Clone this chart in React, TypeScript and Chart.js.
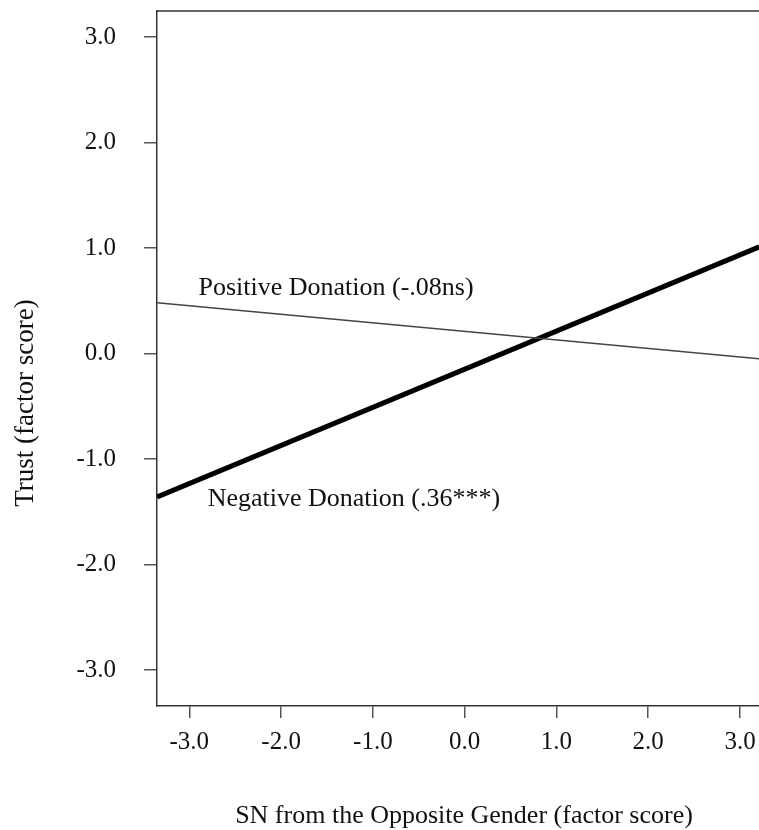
import React, { useEffect, useRef } from "react";
import { Chart, registerables } from "chart.js";

Chart.register(...registerables);

const xEnds = [-3.35, 3.21];
const positiveDonation = [0.48, -0.05];
const negativeDonation = [-1.36, 1.01];
const xTickValues = [-3, -2, -1, 0, 1, 2, 3];
const yTickValues = [-3, -2, -1, 0, 1, 2, 3];
const positiveLabel = "Positive Donation (-.08ns)";
const negativeLabel = "Negative Donation (.36***)";
const positiveLabelAt = [-2.9, 0.555];
const negativeLabelAt = [-2.8, -1.45];
const xTitle = "SN from the Opposite Gender (factor score)";
const yTitle = "Trust (factor score)";

const FONT = "'Liberation Serif', 'Times New Roman', serif";

const overlay = {
  id: "overlay",
  afterDraw(chart: any) {
    const { ctx, chartArea, scales } = chart;
    ctx.save();
    ctx.strokeStyle = "#333";
    ctx.lineWidth = 1.5;
    ctx.beginPath();
    ctx.moveTo(chartArea.left, chartArea.top);
    ctx.lineTo(chartArea.right, chartArea.top);
    ctx.stroke();
    ctx.fillStyle = "#111";
    ctx.font = `26px ${FONT}`;
    ctx.textBaseline = "alphabetic";
    ctx.textAlign = "left";
    ctx.fillText(
      positiveLabel,
      scales.x.getPixelForValue(positiveLabelAt[0]),
      scales.y.getPixelForValue(positiveLabelAt[1])
    );
    ctx.fillText(
      negativeLabel,
      scales.x.getPixelForValue(negativeLabelAt[0]),
      scales.y.getPixelForValue(negativeLabelAt[1])
    );
    ctx.textAlign = "center";
    ctx.textBaseline = "middle";
    ctx.fillText(xTitle, 464, 816);
    ctx.font = `27px ${FONT}`;
    ctx.translate(26, 403);
    ctx.rotate(-Math.PI / 2);
    ctx.fillText(yTitle, 0, 0);
    ctx.restore();
  },
};

const zeroPad = (s: any) => {
  s.paddingTop = 0;
  s.paddingBottom = 0;
  s.paddingLeft = 0;
  s.paddingRight = 0;
};

export default function App() {
  const ref = useRef<HTMLCanvasElement>(null);
  useEffect(() => {
    document.body.style.margin = "0";
    const canvas = ref.current!;
    const chart = new Chart(canvas, {
      type: "line",
      data: {
        datasets: [
          {
            label: "Positive Donation",
            data: xEnds.map((x, i) => ({ x, y: positiveDonation[i] })),
            borderColor: "#444",
            borderWidth: 1.5,
            pointRadius: 0,
            fill: false,
          },
          {
            label: "Negative Donation",
            data: xEnds.map((x, i) => ({ x, y: negativeDonation[i] })),
            borderColor: "#000",
            borderWidth: 5,
            pointRadius: 0,
            fill: false,
          },
        ],
      },
      options: {
        animation: false,
        responsive: false,
        devicePixelRatio: 1,
        layout: { padding: { top: 11, left: 0, right: 0, bottom: 0 } },
        plugins: {
          legend: { display: false },
          tooltip: { enabled: false },
        },
        scales: {
          x: {
            type: "linear",
            min: -3.352,
            max: 3.207,
            afterBuildTicks: (s: any) => {
              s.ticks = xTickValues.map((v) => ({ value: v }));
            },
            afterFit: (s: any) => {
              s.height = 124;
              zeroPad(s);
            },
            grid: {
              drawOnChartArea: false,
              drawTicks: true,
              tickLength: 12,
              color: "#555",
              lineWidth: 1.5,
            },
            border: { display: true, color: "#333", width: 1.5 },
            ticks: {
              padding: 9,
              color: "#111",
              font: { family: FONT, size: 25 },
              maxRotation: 0,
              autoSkip: false,
              callback: (v: any) => Number(v).toFixed(1),
            },
          },
          y: {
            type: "linear",
            min: -3.341,
            max: 3.246,
            afterBuildTicks: (s: any) => {
              s.ticks = yTickValues.map((v) => ({ value: v }));
            },
            afterFit: (s: any) => {
              s.width = 157;
              zeroPad(s);
            },
            grid: {
              drawOnChartArea: false,
              drawTicks: true,
              tickLength: 13,
              color: "#555",
              lineWidth: 1.5,
            },
            border: { display: true, color: "#333", width: 1.5 },
            ticks: {
              padding: 28,
              color: "#111",
              font: { family: FONT, size: 25 },
              autoSkip: false,
              callback: (v: any) => Number(v).toFixed(1),
            },
          },
        },
      },
      plugins: [overlay],
    });
    return () => chart.destroy();
  }, []);
  return (
    <div style={{ width: 759, height: 830 }}>
      <canvas ref={ref} width={759} height={830} style={{ display: "block" }} />
    </div>
  );
}
